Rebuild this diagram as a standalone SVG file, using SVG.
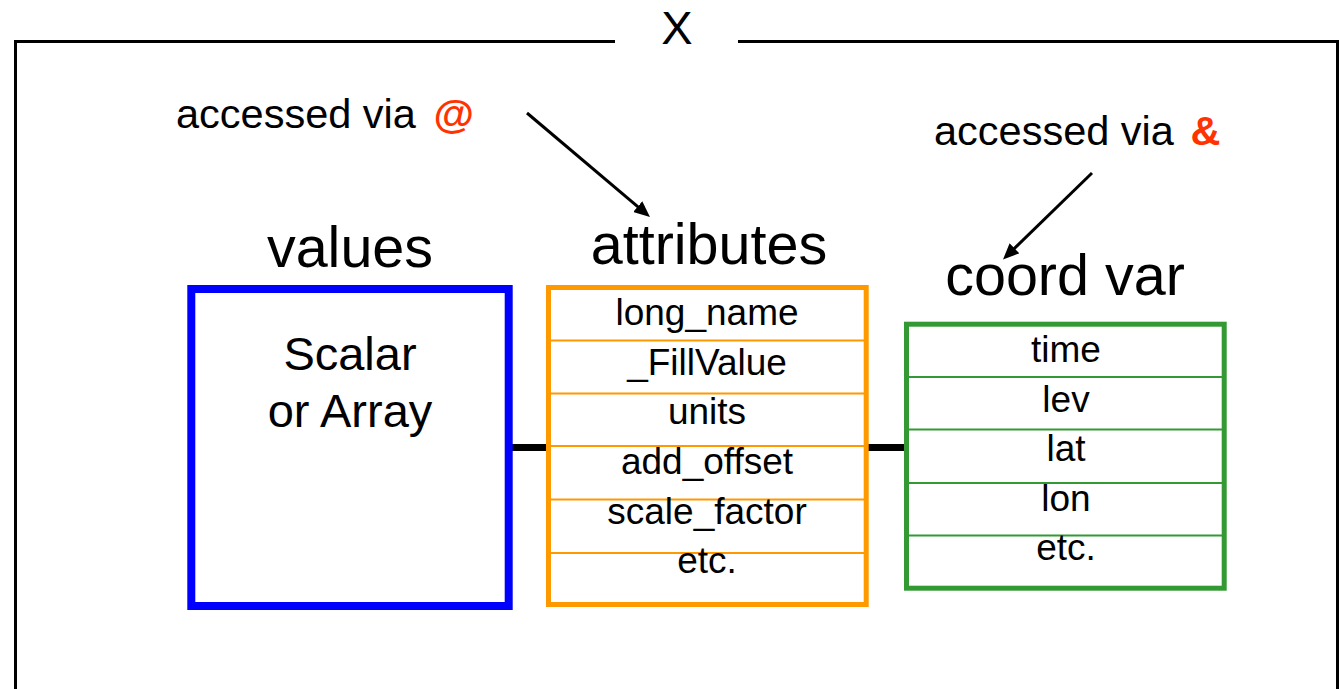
<svg xmlns="http://www.w3.org/2000/svg" width="1339" height="689" viewBox="0 0 1339 689">
  <style>
    text { font-family: "Liberation Sans", Arial, sans-serif; fill: #000; text-anchor: middle; }
    .heading { font-size: 57.5px; }
    .cell { font-size: 37px; }
    .note { font-size: 41.5px; text-anchor: start; }
    .sym { fill: #FF3300; font-weight: bold; }
    .frame { fill: none; stroke: #000; stroke-width: 3; }
    .link { stroke: #000; stroke-width: 7; }
    .pointer { fill: none; stroke: #000; stroke-width: 3; marker-end: url(#head); }
    .attr-row { stroke: #FF9900; stroke-width: 2; }
    .coord-row { stroke: #339933; stroke-width: 2; }
  </style>
  <defs>
    <marker id="head" markerUnits="userSpaceOnUse" viewBox="0 0 16 14" markerWidth="16" markerHeight="14" refX="10" refY="7" orient="auto">
      <path d="M0,0 L16,7 L0,14 z" fill="#000"/>
    </marker>
  </defs>

  <rect width="1339" height="689" fill="#fff"/>

  <!-- variable frame with title -->
  <g id="variable-frame">
    <path class="frame" d="M615,41.5 H15.5 V689 M738,41.5 H1337.5 V689"/>
    <text x="677" y="44" style="font-size:47px">X</text>
  </g>

  <!-- connectors -->
  <g id="connectors">
    <line class="link" x1="512" y1="447.5" x2="548" y2="447.5"/>
    <line class="link" x1="868" y1="447.5" x2="905" y2="447.5"/>
    <line class="pointer" x1="527" y1="113" x2="645.4" y2="213.1"/>
    <line class="pointer" x1="1092" y1="173" x2="1007.3" y2="255.3"/>
  </g>

  <!-- access notes -->
  <g id="note-attributes">
    <text class="note" x="176" y="127.5">accessed via <tspan class="sym" dx="6">@</tspan></text>
  </g>
  <g id="note-coords">
    <text class="note" x="934" y="145">accessed via <tspan class="sym" dx="5">&amp;</tspan></text>
  </g>

  <!-- values -->
  <g id="values">
    <text class="heading" x="350" y="266.5">values</text>
    <rect x="191.3" y="289" width="317.4" height="317" fill="#fff" stroke="#0000FF" stroke-width="8"/>
    <text x="350" y="370" style="font-size:47px">Scalar</text>
    <text x="350" y="427" style="font-size:47px">or Array</text>
  </g>

  <!-- attributes -->
  <g id="attributes">
    <text class="heading" x="709" y="263.5">attributes</text>
    <rect x="548.5" y="287.5" width="317.7" height="317" fill="#fff" stroke="#FF9900" stroke-width="5"/>
    <line class="attr-row" x1="551" y1="340.5" x2="864" y2="340.5"/>
    <line class="attr-row" x1="551" y1="393.5" x2="864" y2="393.5"/>
    <line class="attr-row" x1="551" y1="446" x2="864" y2="446"/>
    <line class="attr-row" x1="551" y1="499.5" x2="864" y2="499.5"/>
    <line class="attr-row" x1="551" y1="553" x2="864" y2="553"/>
    <text class="cell" x="707" y="324.5">long_name</text>
    <text class="cell" x="707" y="375">_FillValue</text>
    <text class="cell" x="707" y="423.5">units</text>
    <text class="cell" x="707" y="473.5">add_offset</text>
    <text class="cell" x="707" y="523.5">scale_factor</text>
    <text class="cell" x="707" y="573">etc.</text>
  </g>

  <!-- coordinate variables -->
  <g id="coord-var">
    <text class="heading" x="1065" y="295">coord var</text>
    <rect x="906.5" y="324.2" width="317.7" height="264" fill="#fff" stroke="#339933" stroke-width="5"/>
    <line class="coord-row" x1="909" y1="377" x2="1222" y2="377"/>
    <line class="coord-row" x1="909" y1="429.5" x2="1222" y2="429.5"/>
    <line class="coord-row" x1="909" y1="483" x2="1222" y2="483"/>
    <line class="coord-row" x1="909" y1="535.5" x2="1222" y2="535.5"/>
    <text class="cell" x="1066" y="362">time</text>
    <text class="cell" x="1066" y="411.5">lev</text>
    <text class="cell" x="1066" y="460.5">lat</text>
    <text class="cell" x="1066" y="510.5">lon</text>
    <text class="cell" x="1066" y="559.5">etc.</text>
  </g>
</svg>
